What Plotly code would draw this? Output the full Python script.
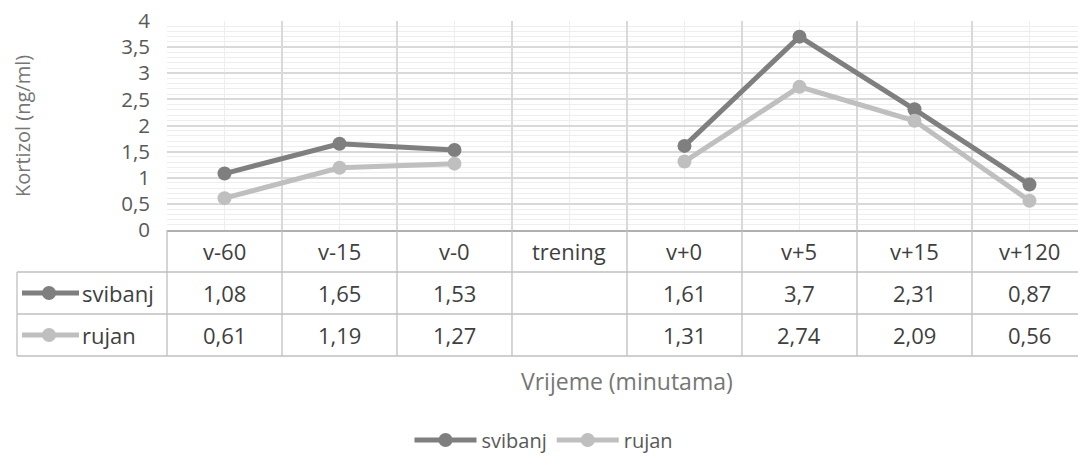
import plotly.graph_objects as go

categories = ["v-60", "v-15", "v-0", "trening", "v+0", "v+5", "v+15", "v+120"]
svibanj = [1.08, 1.65, 1.53, None, 1.61, 3.7, 2.31, 0.87]
rujan = [0.61, 1.19, 1.27, None, 1.31, 2.74, 2.09, 0.56]
series_names = ["svibanj", "rujan"]
series_colors = ["#7f7f7f", "#bfbfbf"]
y_ticks = [0, 0.5, 1, 1.5, 2, 2.5, 3, 3.5, 4]

# body margin is removed by post_script, so page pixels == figure pixels
OFF = 0
W, H = 1078 - OFF, 462 - OFF
L, T = 167 - OFF, 21 - OFF
PLOT_BOT, TAB_BOT = 230 - OFF, 356 - OFF
X0, X1 = -0.5, 7.422
PH = TAB_BOT - T
PW = W - L

FONT = "Open Sans"


def py(p):  # page pixel y -> paper y
    return (TAB_BOT - (p - OFF)) / PH


def pxp(p):  # page pixel x -> paper x
    return ((p - OFF) - L) / PW


def xd(v):  # data x -> paper x
    return (v - X0) / (X1 - X0)


fig = go.Figure()
xs = list(range(len(categories)))
for name, vals, col in zip(series_names, [svibanj, rujan], series_colors):
    fig.add_trace(go.Scatter(
        x=xs, y=vals, name=name, mode="lines+markers",
        line=dict(color=col, width=5),
        marker=dict(color=col, size=14),
        connectgaps=False, hoverinfo="skip",
    ))

shapes = []
tcol = "#bfbfbf"
row_h_pg = (356 - 230) / 3
# table vertical lines at category boundaries
for k in range(len(categories) + 1):
    xb = xd(k - 0.5)
    if xb > 1.001:
        continue
    shapes.append(dict(type="line", xref="paper", yref="paper",
                       x0=xb, x1=xb, y0=py(230), y1=py(356),
                       line=dict(color=tcol, width=1.3)))
# row header left border
shapes.append(dict(type="line", xref="paper", yref="paper",
                   x0=pxp(17), x1=pxp(17), y0=py(230 + row_h_pg), y1=py(356),
                   line=dict(color=tcol, width=1.3)))
# horizontal table lines
for r in range(1, 4):
    yy = py(230 + r * row_h_pg)
    shapes.append(dict(type="line", xref="paper", yref="paper",
                       x0=pxp(17), x1=1.0, y0=yy, y1=yy,
                       line=dict(color=tcol, width=1.3)))

annotations = []
tfont = dict(family=FONT, size=22, color="#3f3f3f")
for i, c in enumerate(categories):
    annotations.append(dict(x=i, xref="x", y=py(230 + row_h_pg / 2), yref="paper",
                            text=c, showarrow=False, font=tfont,
                            xanchor="center", yanchor="middle"))
for r, (name, vals, col) in enumerate(zip(series_names, [svibanj, rujan], series_colors)):
    yrow = py(230 + row_h_pg * (r + 1.5))
    for i, v in enumerate(vals):
        if v is None:
            continue
        annotations.append(dict(x=i, xref="x", y=yrow, yref="paper",
                                text=str(v).replace(".", ","), showarrow=False, font=tfont,
                                xanchor="center", yanchor="middle"))
    # row header: icon + name
    shapes.append(dict(type="line", xref="paper", yref="paper",
                       x0=pxp(22), x1=pxp(79), y0=yrow, y1=yrow,
                       line=dict(color=col, width=5)))
    rpx, rpy = 7 / PW, 7 / PH
    shapes.append(dict(type="circle", xref="paper", yref="paper",
                       x0=pxp(49) - rpx, x1=pxp(49) + rpx, y0=yrow - rpy, y1=yrow + rpy,
                       fillcolor=col, line=dict(color=col, width=0)))
    annotations.append(dict(x=pxp(80), xref="paper", y=yrow, yref="paper",
                            text=name, showarrow=False, font=tfont,
                            xanchor="left", yanchor="middle"))

# axis titles
annotations.append(dict(x=pxp(627), xref="paper", y=py(381), yref="paper",
                        text="Vrijeme (minutama)", showarrow=False,
                        font=dict(family=FONT, size=23, color="#767676"),
                        xanchor="center", yanchor="middle"))
annotations.append(dict(x=pxp(22), xref="paper", y=py(126), yref="paper",
                        text="Kortizol (ng/ml)", showarrow=False, textangle=-90,
                        font=dict(family=FONT, size=20, color="#767676"),
                        xanchor="center", yanchor="middle"))

fig.update_layout(
    width=W, height=H,
    margin=dict(l=L, r=0, t=T, b=H - TAB_BOT, pad=0, autoexpand=False),
    paper_bgcolor="white", plot_bgcolor="white",
    separators=",.",
    font=dict(family=FONT, size=20, color="#595959"),
    shapes=shapes, annotations=annotations,
    showlegend=True,
    legend=dict(orientation="h", xref="container", yref="container",
                x=(544 - OFF) / W, y=1 - (440 - OFF) / H, xanchor="center", yanchor="middle",
                font=dict(family=FONT, size=20, color="#595959"),
                itemwidth=62, bgcolor="rgba(0,0,0,0)"),
    xaxis=dict(range=[X0, X1], tick0=-0.5, dtick=1, showticklabels=False,
               ticks="", showgrid=True, gridcolor="#d9d9d9", gridwidth=1.5,
               minor=dict(dtick=0.5, showgrid=True, gridcolor="#eeeeee", gridwidth=1.2),
               zeroline=False, showline=True, linecolor="#b0b0b0", linewidth=1.5,
               domain=[0, 1], fixedrange=True, automargin=False),
    yaxis=dict(range=[0, 4], tickvals=y_ticks, ticks="", showgrid=True,
               gridcolor="#d9d9d9", gridwidth=1.5,
               minor=dict(dtick=0.1, showgrid=True, gridcolor="#eeeeee", gridwidth=1),
               zeroline=False, showline=False,
               domain=[py(230), 1.0], ticklabelstandoff=16,
               ticklabeloverflow="allow",
               tickfont=dict(family=FONT, size=20.5, color="#595959"),
               fixedrange=True, automargin=False),
)

fig.write_html("out.html", config={"displayModeBar": False},
               post_script="document.body.style.margin='0px';")
